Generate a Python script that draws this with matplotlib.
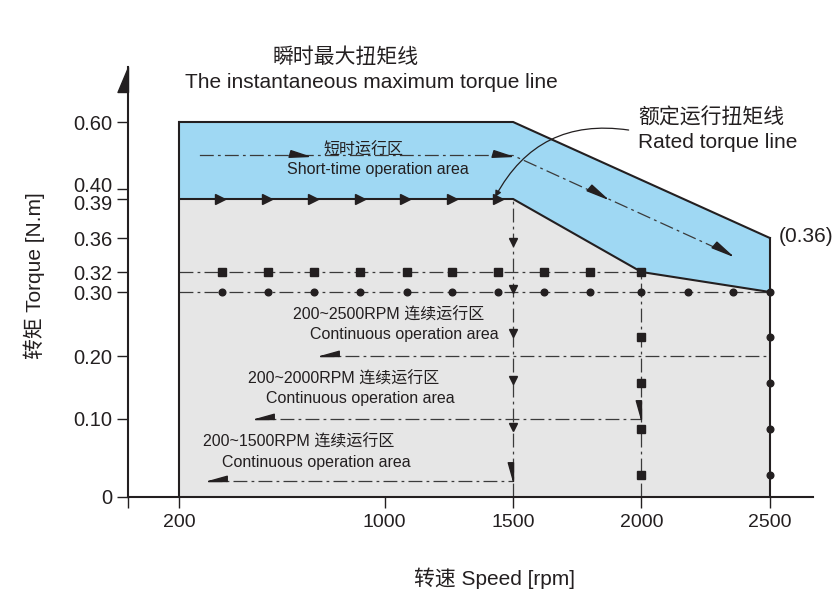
import matplotlib
matplotlib.use("Agg")
import matplotlib.pyplot as plt
import numpy as np
from matplotlib.markers import MarkerStyle
from matplotlib.transforms import Affine2D, ScaledTranslation

plt.rcParams['lines.scale_dashes'] = False

# ---- data ----
max_speed = [200, 1500, 2500]
max_torque = [0.60, 0.60, 0.36]
rated_speed = [200, 1500, 2000, 2500]
rated_torque = [0.39, 0.39, 0.32, 0.30]

x_ticks = [0, 200, 1000, 1500, 2000, 2500]
x_labels = ['', '200', '1000', '1500', '2000', '2500']
y_ticks = [0, 0.10, 0.20, 0.30, 0.32, 0.36, 0.39, 0.40, 0.60]
y_labels = ['0', '0.10', '0.20', '0.30', '0.32', '0.36', '0.39', '0.40', '0.60']

rated_arrow_speeds = [360, 540, 720, 905, 1080, 1260, 1440]
square_speeds = [365, 545, 725, 905, 1085, 1260, 1440, 1620, 1800, 2000]
circle_speeds = [365, 545, 725, 905, 1085, 1260, 1440, 1620, 1800, 2000, 2180, 2355, 2500]
side_torques = [0.23, 0.157, 0.087, 0.028]
down_torques_1500 = [0.355, 0.303, 0.236, 0.162, 0.09]

# continuous-area loops: (left speed, right speed, torque level)
loop_left = [312, 495, 748]
loop_right = [1500, 2000, 2500]
loop_torque = [0.02, 0.10, 0.20]

# short-time loop
short_speed = [280, 1500, 2350]
short_torque = [0.50, 0.50, 0.34]
short_arrow_speed = [700, 1490]
diag_arrow_speed = [1860, 2350]
diag_arrow_torque = [0.391, 0.34]

# ---- piecewise y scale (schematic axis) ----
y_knots = np.array([0, 0.10, 0.20, 0.30, 0.32, 0.36, 0.39, 0.40, 0.60, 1.0])
t_knots = np.array([0, 78, 141, 205, 225, 259, 298, 308, 375, 509])


def fwd(v):
    return np.interp(v, y_knots, t_knots)


def inv(t):
    return np.interp(t, t_knots, y_knots)


INK = '#231f20'
DASH = '#3a3a3a'
BLUE = '#9fd8f3'
GREY = '#e6e6e6'
dashdot = (0, (10, 3, 2, 3))
TXT = ['Liberation Sans', 'Noto Sans CJK SC']

fig = plt.figure(figsize=(8.4, 5.94), dpi=100)
ax = fig.add_axes([128 / 840, 97 / 594, 685 / 840, 430 / 594])
ax.set_yscale('function', functions=(fwd, inv))
ax.set_xlim(0, 2668)
ax.set_ylim(0, inv(430))

# regions
ax.fill(rated_speed + [2500, 200], rated_torque + [0, 0], color=GREY, lw=0, zorder=1)
ax.fill(max_speed + rated_speed[::-1], max_torque + rated_torque[::-1], color=BLUE, lw=0, zorder=1)

# boundaries
ax.plot(max_speed, max_torque, color=INK, lw=1.5, zorder=4)
ax.plot(rated_speed, rated_torque, color=INK, lw=1.5, zorder=4)
ax.plot([200, 200], [0, max_torque[0]], color=INK, lw=1.5, zorder=4)
ax.plot([2500, 2500], [0, max_torque[-1]], color=INK, lw=1.5, zorder=4)

# dash-dot guides
ax.plot([200, 2000], [0.32, 0.32], color=DASH, lw=0.9, ls=dashdot, zorder=2)
ax.plot([200, 2500], [0.30, 0.30], color=DASH, lw=0.9, ls=dashdot, zorder=2)
ax.plot([1500, 1500], [0, 0.39], color=DASH, lw=0.9, ls=dashdot, zorder=2)
ax.plot([2000, 2000], [0, 0.32], color=DASH, lw=0.9, ls=dashdot, zorder=2)
for l, r, t in zip(loop_left, loop_right, loop_torque):
    ax.plot([l, r], [t, t], color=DASH, lw=0.9, ls=dashdot, zorder=2)
ax.plot(short_speed, short_torque, color=DASH, lw=0.9, ls=dashdot, zorder=2)

# markers
ax.plot(rated_arrow_speeds, [0.39] * len(rated_arrow_speeds), ls='none', marker='>',
        ms=6.5, color=INK, zorder=5)
ax.plot(square_speeds, [0.32] * len(square_speeds), ls='none', marker='s', ms=5.5,
        color=INK, zorder=5)
ax.plot(circle_speeds, [0.30] * len(circle_speeds), ls='none', marker='o', ms=4.8,
        color=INK, zorder=5)
ax.plot([2000] * len(side_torques), side_torques, ls='none', marker='s', ms=5.5,
        color=INK, zorder=5)
ax.plot([2500] * len(side_torques), side_torques, ls='none', marker='o', ms=4.8,
        color=INK, zorder=5)
ax.plot([1500] * len(down_torques_1500), down_torques_1500, ls='none', marker='v',
        ms=6, color=INK, zorder=5)

# harpoon-style arrow heads
right_w = [(0, 0), (-1, -0.04), (-0.9, 0.3), (0, 0)]
left_w = [(0, 0), (1, 0), (1, 0.28), (0, 0)]
down_w = [(0, 0), (0, 1), (-0.28, 1), (0, 0)]
ax.plot(short_arrow_speed, [0.50] * 2, ls='none', marker=right_w, ms=28, color=INK, zorder=5)
ax.plot(diag_arrow_speed, diag_arrow_torque, ls='none',
        marker=MarkerStyle(right_w, transform=Affine2D().rotate_deg(-24)),
        ms=30, color=INK, zorder=5)
ax.plot(loop_left, loop_torque, ls='none', marker=left_w, ms=27, color=INK, zorder=5)
ax.plot(loop_right[:2], loop_torque[:2], ls='none', marker=down_w, ms=27, color=INK, zorder=5)

# y-axis arrow
ax.plot([0], [inv(430)], ls='none', marker=[(0, 0), (0, -1), (-0.42, -1), (0, 0)],
        ms=36, color=INK, clip_on=False, zorder=6)

# rated torque pointer
ax.annotate('', xy=(1430, 0.392), xytext=(1950, 0.576),
            arrowprops=dict(arrowstyle='-|>', connectionstyle='arc3,rad=0.35',
                            color=INK, lw=0.9, shrinkA=0, shrinkB=0, mutation_scale=9),
            zorder=6)

# axes styling
for s in ['top', 'right']:
    ax.spines[s].set_visible(False)
for s in ['left', 'bottom']:
    ax.spines[s].set_linewidth(1.5)
    ax.spines[s].set_color(INK)
ax.set_xticks(x_ticks)
ax.set_xticklabels(x_labels, family='Liberation Sans', fontsize=14)
ax.set_yticks(y_ticks)
ax.set_yticklabels(y_labels, family='Liberation Sans', fontsize=14.5)
ax.minorticks_off()
ax.tick_params(axis='both', direction='out', length=8, width=1, color=INK, labelcolor=INK)
ax.tick_params(axis='x', pad=4)
ax.tick_params(axis='y', pad=3)

# 0.40 and 0.39 sit close together: nudge their labels apart
yt = ax.yaxis.get_major_ticks()
for idx, dy in [(7, 5), (6, -4)]:
    lab = yt[idx].label1
    lab.set_transform(lab.get_transform() + ScaledTranslation(0, dy / 100, fig.dpi_scale_trans))


def ftext(x, y, s, size, ha='left', **kw):
    fig.text(x / 840, 1 - y / 594, s, fontsize=size, ha=ha, va='center',
             color=INK, family=TXT, **kw)


ftext(272, 57, '瞬时最大扭矩线', 15)
ftext(185, 83, 'The instantaneous maximum torque line', 15)
ftext(638, 118, '额定运行扭矩线', 15)
ftext(638, 143, 'Rated torque line', 15)
ftext(779, 237, '(0.36)', 15)
ftext(363, 150, '短时运行区', 11.5, ha='center')
ftext(287, 170, 'Short-time operation area', 11.5)
ftext(293, 315, '200~2500RPM 连续运行区', 11.5)
ftext(310, 334, 'Continuous operation area', 11.5)
ftext(248, 379, '200~2000RPM 连续运行区', 11.5)
ftext(266, 398, 'Continuous operation area', 11.5)
ftext(203, 442, '200~1500RPM 连续运行区', 11.5)
ftext(222, 463, 'Continuous operation area', 11.5)
ftext(34, 276, '转矩 Torque [N.m]', 15, ha='center', rotation=90)
ftext(495, 578, '转速 Speed [rpm]', 15, ha='center')

fig.savefig('out.png', dpi=100)
